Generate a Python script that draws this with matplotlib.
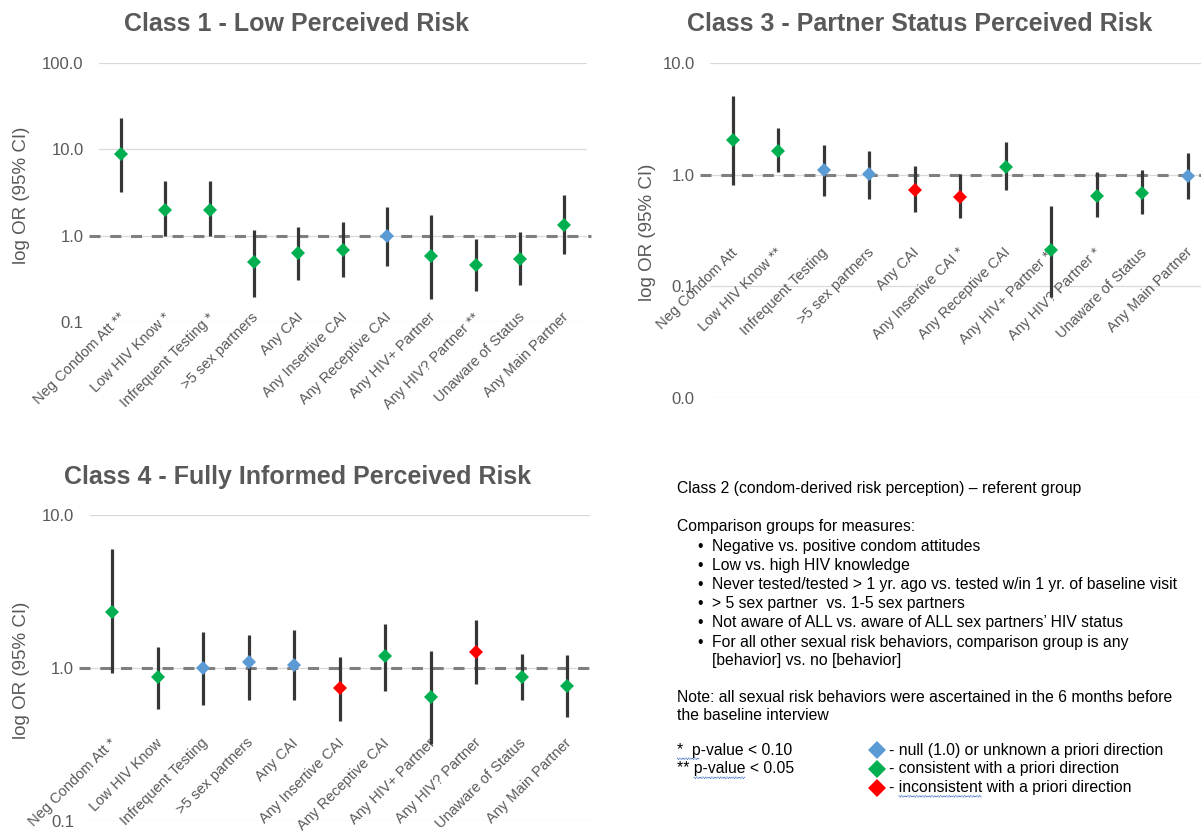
import matplotlib
matplotlib.use("Agg")
import matplotlib.pyplot as plt
import numpy as np
from matplotlib.ticker import FixedLocator, FuncFormatter, NullLocator

plt.rcParams["font.family"] = ["Liberation Sans", "DejaVu Sans"]

W, H = 1201, 834

MEASURES = ["Neg Condom Att", "Low HIV Know", "Infrequent Testing",
            ">5 sex partners", "Any CAI", "Any Insertive CAI",
            "Any Receptive CAI", "Any HIV+ Partner", "Any HIV? Partner",
            "Unaware of Status", "Any Main Partner"]

# Class 1 - Low Perceived Risk
c1_or = [8.75, 2.0, 2.0, 0.49, 0.63, 0.68, 1.0, 0.575, 0.456, 0.535, 1.34]
c1_lo = [3.19, 1.0, 1.0, 0.197, 0.305, 0.33, 0.45, 0.187, 0.23, 0.27, 0.62]
c1_hi = [23.3, 4.25, 4.25, 1.16, 1.27, 1.45, 2.13, 1.74, 0.91, 1.10, 2.92]
c1_sig = ["**", "*", "*", "", "", "", "", "", "**", "", ""]
c1_dir = ["c", "c", "c", "c", "c", "c", "n", "c", "c", "c", "c"]

# Class 3 - Partner Status Perceived Risk
c3_or = [2.03, 1.64, 1.10, 1.01, 0.73, 0.63, 1.17, 0.21, 0.65, 0.69, 0.98]
c3_lo = [0.80, 1.05, 0.65, 0.605, 0.46, 0.41, 0.73, 0.081, 0.42, 0.44, 0.61]
c3_hi = [5.03, 2.62, 1.83, 1.64, 1.20, 1.02, 1.95, 0.52, 1.06, 1.09, 1.56]
c3_sig = ["", "**", "", "", "", "*", "", "**", "*", "", ""]
c3_dir = ["c", "c", "n", "n", "i", "i", "c", "c", "c", "c", "n"]

# Class 4 - Fully Informed Perceived Risk
c4_or = [2.33, 0.87, 1.0, 1.09, 1.04, 0.74, 1.19, 0.65, 1.27, 0.87, 0.76]
c4_lo = [0.93, 0.54, 0.575, 0.62, 0.62, 0.45, 0.71, 0.32, 0.79, 0.62, 0.475]
c4_hi = [5.96, 1.37, 1.72, 1.65, 1.76, 1.18, 1.95, 1.29, 2.07, 1.24, 1.21]
c4_sig = ["*", "", "", "", "", "", "", "", "", "", ""]
c4_dir = ["c", "c", "n", "n", "n", "i", "c", "c", "i", "c", "c"]

REF_OR = 1.0
DIR_COLORS = {"n": "#5B9BD5", "c": "#00B050", "i": "#FF0000"}
GREY = "#595959"


def px_axes(left, top, right, bottom):
    return [left / W, 1 - bottom / H, (right - left) / W, (bottom - top) / H]


def draw_panel(fig, rect, title, title_xy, ylabel_xy, ors, lo, hi, sig, dirs,
               yticks, label_y):
    ax = fig.add_axes(rect)
    ax.set_yscale("log")
    ax.set_ylim(yticks[0], yticks[-1])
    ax.set_xlim(-0.5, len(ors) - 0.5)
    ax.yaxis.set_major_locator(FixedLocator(yticks))
    ax.yaxis.set_minor_locator(NullLocator())
    ax.yaxis.set_major_formatter(FuncFormatter(lambda v, _: f"{v:.1f}"))
    ax.xaxis.set_major_locator(NullLocator())
    ax.tick_params(axis="y", length=0, pad=11, labelsize=12, labelcolor=GREY)
    for s in ax.spines.values():
        s.set_visible(False)
    ax.yaxis.grid(True, color="#D9D9D9", linewidth=0.9)
    ax.set_axisbelow(True)

    x = list(range(len(ors)))
    ax.axhline(REF_OR, xmin=-0.02, xmax=1.01, clip_on=False, color="#7F7F7F",
               linewidth=2.2, dashes=(3.6, 3.2), zorder=2)
    ax.vlines(x, lo, hi, color="#363636", linewidth=2.3, zorder=4)
    for xi, v, d in zip(x, ors, dirs):
        ax.plot(xi, v, marker="D", markersize=7, color=DIR_COLORS[d],
                markeredgewidth=0, zorder=5)

    for xi, name, s in zip(x, MEASURES, sig):
        label = f"{name} {s}" if s else name
        ax.text(xi + 0.05, label_y, label, rotation=45, ha="right", va="center",
                rotation_mode="anchor", fontsize=10.5, color=GREY, zorder=3)

    fig.text(title_xy[0] / W, 1 - title_xy[1] / H, title, ha="center",
             va="center", fontsize=18, fontweight="bold", color=GREY)
    fig.text(ylabel_xy[0] / W, 1 - ylabel_xy[1] / H, "log OR (95% CI)",
             rotation=90, ha="center", va="center", fontsize=13.5, color=GREY)
    return ax


fig = plt.figure(figsize=(W / 100, H / 100), dpi=100)

draw_panel(fig, px_axes(99, 63, 586.5, 322), "Class 1 - Low Perceived Risk",
           (297, 24), (22, 195), c1_or, c1_lo, c1_hi, c1_sig, c1_dir,
           [0.1, 1.0, 10.0, 100.0], 0.12)
draw_panel(fig, px_axes(710, 63, 1210.5, 398),
           "Class 3 - Partner Status Perceived Risk",
           (920, 24), (647, 232), c3_or, c3_lo, c3_hi, c3_sig, c3_dir,
           [0.01, 0.1, 1.0, 10.0], 0.21)
draw_panel(fig, px_axes(89.5, 515, 590, 821),
           "Class 4 - Fully Informed Perceived Risk",
           (298, 477), (22, 670), c4_or, c4_lo, c4_hi, c4_sig, c4_dir,
           [0.1, 1.0, 10.0], 0.335)

# notes block
NOTE_FS = 11.3
renderer = fig.canvas.get_renderer()


def note(xp, yp, s, **kw):
    return fig.text(xp / W, 1 - yp / H, s, ha="left", va="center",
                    fontsize=NOTE_FS, color="black", **kw)


def text_width(s):
    t = fig.text(0, 0, s, fontsize=NOTE_FS)
    w = t.get_window_extent(renderer).width
    t.remove()
    return w


def squiggle(xp, yp, s_before, s_under):
    # spell-check style wavy underline below part of a line
    x0 = xp + text_width(s_before)
    x1 = x0 + text_width(s_under)
    xs = np.arange(x0, x1, 1.5)
    ys = yp + 8 + np.where(np.arange(len(xs)) % 2 == 0, 0.0, 1.5)
    fig.lines.append(plt.Line2D(xs / W, 1 - ys / H, color="#4472C4",
                                linewidth=0.8, linestyle=(0, (1, 0.6)),
                                transform=fig.transFigure))


note(677, 489, "Class 2 (condom-derived risk perception) \u2013 referent group")
note(677, 527, "Comparison groups for measures:")
bullets = ["Negative vs. positive condom attitudes",
           "Low vs. high HIV knowledge",
           "Never tested/tested > 1 yr. ago vs. tested w/in 1 yr. of baseline visit",
           "> 5 sex partner  vs. 1-5 sex partners",
           "Not aware of ALL vs. aware of ALL sex partners\u2019 HIV status",
           "For all other sexual risk behaviors, comparison group is any"]
for k, b in enumerate(bullets):
    yy = 546 + k * 19.2
    note(697, yy, "\u2022")
    note(712, yy, b)
note(712, 546 + 6 * 19.2 - 0.5, "[behavior] vs. no [behavior]")
note(677, 697, "Note: all sexual risk behaviors were ascertained in the 6 months before")
note(677, 715, "the baseline interview")
note(677, 750, "*  p-value < 0.10")
note(677, 769, "** p-value < 0.05")
squiggle(677, 750, "", "*  p")
squiggle(677, 769, "** ", "p-value")

legend_items = [("n", "- null (1.0) or unknown a priori direction"),
                ("c", "- consistent with a priori direction"),
                ("i", "- inconsistent with a priori direction")]
for k, (d, s) in enumerate(legend_items):
    yy = 750 + k * 18.8
    fig.lines.append(plt.Line2D([877 / W], [1 - yy / H], marker="D",
                                markersize=9.5, color=DIR_COLORS[d],
                                markeredgewidth=0, transform=fig.transFigure))
    note(889, yy, s)
squiggle(889, 750 + 2 * 18.8, "- ", "inconsistent")

fig.savefig("out.png", dpi=100)
